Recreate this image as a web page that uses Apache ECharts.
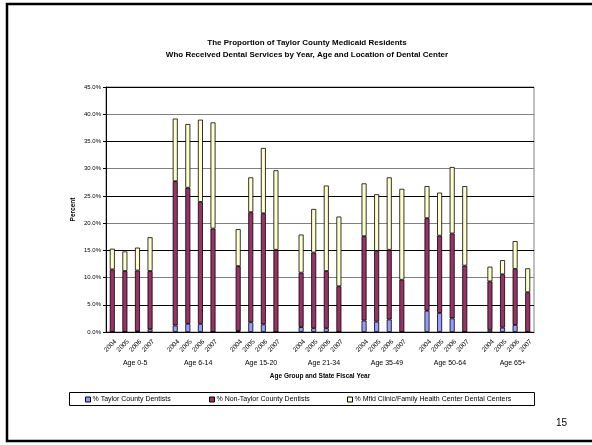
<!DOCTYPE html>
<html>
<head>
<meta charset="utf-8">
<script src="https://cdn.jsdelivr.net/npm/echarts@6/dist/echarts.min.js"></script>
<style>
html,body{margin:0;padding:0;background:#fff;}
#c{width:592px;height:445px;}
</style>
</head>
<body>
<div id="c"></div>
<script>
// ---- data (percent) ----
var groups = ['Age 0-5', 'Age 6-14', 'Age 15-20', 'Age 21-34', 'Age 35-49', 'Age 50-64', 'Age 65+'];
var years = ['2004', '2005', '2006', '2007'];
var yTicks = [0, 5, 10, 15, 20, 25, 30, 35, 40, 45];
var seriesNames = ['% Taylor County Dentists', '% Non-Taylor County Dentists', '% Mfld Clinic/Family Health Center Dental Centers'];
// values in order group by group, 4 years each
var taylorDentists = [
  0.0, 0.0, 0.1, 0.5,
  1.2, 1.5, 1.5, 0.0,
  0.2, 1.8, 1.4, 0.0,
  0.9, 0.7, 0.7, 0.0,
  2.1, 1.9, 2.3, 0.0,
  3.9, 3.5, 2.5, 0.0,
  0.4, 0.8, 1.3, 0.0
];
var nonTaylorDentists = [
  11.5, 11.2, 11.2, 10.7,
  26.5, 25.0, 22.4, 19.0,
  11.9, 20.2, 20.4, 15.1,
  10.0, 13.9, 10.5, 8.4,
  15.5, 13.0, 12.8, 9.6,
  17.0, 14.2, 15.6, 12.2,
  8.9, 9.8, 10.3, 7.3
];
var mfldClinics = [
  3.8, 3.6, 4.2, 6.2,
  11.5, 11.7, 15.1, 19.5,
  6.8, 6.4, 12.0, 14.6,
  7.0, 8.0, 15.7, 12.8,
  9.7, 10.4, 13.3, 16.7,
  5.9, 7.9, 12.2, 14.6,
  2.7, 2.6, 5.1, 4.4
];

// ---- build slot tables (a blank slot between age groups) ----
function slots(vals) {
  var out = [];
  groups.forEach(function (g, gi) {
    years.forEach(function (y, yi) { out.push(vals[gi * years.length + yi]); });
    if (gi < groups.length - 1) out.push('-');
  });
  return out;
}
var yearCats = [];
groups.forEach(function (g, gi) {
  years.forEach(function (y) { yearCats.push(y); });
  if (gi < groups.length - 1) yearCats.push('');
});
var nSlots = yearCats.length;            // 34
var halfCats = [];
for (var i = 0; i <= nSlots * 2; i++) halfCats.push('');
groups.forEach(function (g, gi) {
  var start = gi * (years.length + 1);
  halfCats[start * 2 + years.length] = g; // centre of group
});

var FONT = 'Liberation Sans, Arial, sans-serif';
var colors = ['#9999FF', '#993366', '#FFFFCC'];
var allVals = [taylorDentists, nonTaylorDentists, mfldClinics];

var series = seriesNames.map(function (n, k) {
  return {
    name: n, type: 'bar', stack: 'total', xAxisIndex: 0, yAxisIndex: 0,
    barWidth: 5,
    data: slots(allVals[k]),
    itemStyle: { color: colors[k], borderColor: '#000', borderWidth: 0.8 },
    emphasis: { disabled: true },
    animation: false
  };
});

var legendX = [85, 209, 347];
var legends = seriesNames.map(function (n, k) {
  return {
    data: [{ name: n, icon: 'rect' }], left: legendX[k], top: 396,
    itemWidth: 5, itemHeight: 5, itemGap: 2, padding: 0,
    selectedMode: false,
    itemStyle: { borderColor: '#000', borderWidth: 1 },
    textStyle: { fontFamily: FONT, fontSize: 7, color: '#000', padding: [0, 0, 0, -3] }
  };
});

var chart = echarts.init(document.getElementById('c'), null, { renderer: 'canvas' });
chart.setOption({
  animation: false,
  backgroundColor: '#fff',
  title: [{
    text: 'The Proportion of Taylor County Medicaid Residents\nWho Received Dental Services by Year, Age and Location of Dental Center',
    left: 302, top: 32, textAlign: 'center',
    textStyle: { fontFamily: FONT, fontSize: 8, fontWeight: 'bold', color: '#000', lineHeight: 12 }
  }, {
    text: '15', left: 551, top: 413,
    textStyle: { fontFamily: FONT, fontSize: 10, fontWeight: 'normal', color: '#000' }
  }],
  legend: legends,
  grid: { left: 106, right: 58, top: 87, bottom: 113, show: true, borderColor: '#808080', borderWidth: 1, backgroundColor: 'transparent' },
  xAxis: [{
    type: 'category', data: yearCats, gridIndex: 0, position: 'bottom',
    axisLine: { show: true, lineStyle: { color: '#000', width: 1 } },
    axisTick: { show: false },
    axisLabel: { interval: 0, rotate: 45, margin: 5.5, verticalAlign: 'top', padding: [1, 0, 0, 0],
      fontFamily: FONT, fontSize: 6.5, color: '#000' },
    splitLine: { show: false }
  }, {
    type: 'category', data: halfCats, gridIndex: 0, position: 'bottom', boundaryGap: false,
    axisLine: { show: false }, axisTick: { show: false },
    axisLabel: { interval: 0, margin: 28, padding: [0, 0, 0, 8], fontFamily: FONT, fontSize: 7, color: '#000' },
    name: 'Age Group and State Fiscal Year', nameLocation: 'middle', nameGap: 41, nameMoveOverlap: false,
    nameTextStyle: { fontFamily: FONT, fontSize: 6.5, fontWeight: 'bold', color: '#000' },
    splitLine: { show: false }
  }],
  yAxis: {
    type: 'value', min: yTicks[0], max: yTicks[yTicks.length - 1], interval: yTicks[1] - yTicks[0],
    axisLine: { show: true, lineStyle: { color: '#000', width: 1 } },
    axisTick: { show: true, length: 3, inside: false, lineStyle: { color: '#000' } },
    axisLabel: { margin: 5, fontFamily: FONT, fontSize: 6, color: '#000', formatter: function (v) { return v.toFixed(1) + '%'; } },
    splitLine: { show: true, lineStyle: { color: ['#808080', '#000'], width: 1 } },
    name: 'Percent', nameLocation: 'middle', nameRotate: 90, nameGap: 29, nameMoveOverlap: false,
    nameTextStyle: { fontFamily: FONT, fontSize: 6.5, fontWeight: 'bold', color: '#000' }
  },
  graphic: [{
    type: 'rect', silent: true, z: -1,
    shape: { x: 7, y: 4, width: 620, height: 437 },
    style: { fill: 'none', stroke: '#000', lineWidth: 2.5 }
  }, {
    type: 'rect', silent: true, z: -1,
    shape: { x: 69.5, y: 392.5, width: 465, height: 13 },
    style: { fill: '#fff', stroke: '#000', lineWidth: 1 }
  }],
  series: series
});
</script>
</body>
</html>
